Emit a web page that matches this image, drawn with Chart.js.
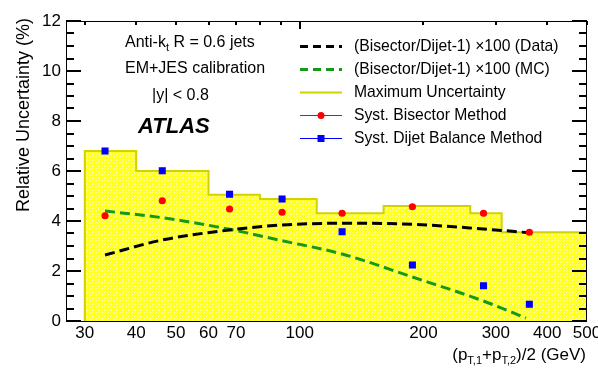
<!DOCTYPE html>
<html>
<head>
<meta charset="utf-8">
<script src="https://cdn.jsdelivr.net/npm/chart.js@4.4.1/dist/chart.umd.min.js"></script>
<style>
  html, body { margin: 0; padding: 0; background: #fff; }
  canvas { display: block; }
</style>
</head>
<body>
<canvas id="uncChart" width="598" height="378"></canvas>
<script>
// Maximum uncertainty histogram: bin edges (GeV) and contents (%)
const binEdges = [30, 40, 60, 80, 110, 160, 260, 310, 500];
const maxUnc = [6.8, 6.0, 5.05, 4.88, 4.31, 4.6, 4.31, 3.55];

// Systematics of the two methods
const ptPoints = [33.6, 46.3, 67.5, 90.6, 126.8, 188, 280, 362];
const bisector = [4.21, 4.81, 4.48, 4.35, 4.31, 4.57, 4.31, 3.55];
const dijet = [6.8, 6.01, 5.07, 4.88, 3.57, 2.24, 1.41, 0.67];

// (Bisector/Dijet-1)x100 curves
const dataCurveX = [33.6, 46.3, 67.5, 90.6, 126.8, 188, 280, 362];
const dataCurve = [2.64, 3.24, 3.64, 3.84, 3.91, 3.87, 3.68, 3.53];
const mcCurveX = [33.6, 46.3, 67.5, 90.6, 126.8, 188, 280, 355];
const mcCurve = [4.4, 4.13, 3.67, 3.21, 2.68, 1.76, 0.8, 0.12];

// axis ticks
const xTicks = [30, 40, 50, 60, 70, 80, 90, 100, 200, 300, 400, 500];
const xLabels = [30, 40, 50, 60, 70, 100, 200, 300, 400, 500];
const yTicks = [0, 2, 4, 6, 8, 10, 12];
const yMinor = [0.5, 1, 1.5, 2.5, 3, 3.5, 4.5, 5, 5.5, 6.5, 7, 7.5, 8.5, 9, 9.5, 10.5, 11, 11.5];

const FONT = '"Liberation Sans", Arial, Helvetica, sans-serif';
const GREEN = '#169a16';
const HIST_LINE = '#d2d200';

const toXY = (xs, ys) => xs.map((x, i) => ({ x: x, y: ys[i] }));

// histogram outline as a stepped line
const histPoints = [{ x: binEdges[0], y: 0 }];
maxUnc.forEach((v, i) => histPoints.push({ x: binEdges[i], y: v }));
histPoints.push({ x: binEdges[binEdges.length - 1], y: maxUnc[maxUnc.length - 1] });
histPoints.push({ x: binEdges[binEdges.length - 1], y: 0 });

// dotted yellow fill like the ROOT pattern
function makePattern() {
    const c = document.createElement('canvas');
    c.width = 3; c.height = 3;
    const p = c.getContext('2d');
    p.fillStyle = '#ffff20';
    p.fillRect(0, 0, 3, 3);
    p.fillStyle = '#ffffa8';
    p.fillRect(0, 0, 1, 1);
    p.fillRect(2, 1, 1, 1);
    return p.createPattern(c, 'repeat');
}

const axisDecor = {
    id: 'axisDecor',
    afterDraw(chart) {
        const { ctx, chartArea: a } = chart;
        const xs = chart.scales.x;
        const ys = chart.scales.y;
        ctx.save();
        ctx.setLineDash([]);
        ctx.fillStyle = '#000';

        // tick marks pointing into the frame
        const yTick = (v, len) => {
            const y = Math.round(ys.getPixelForValue(v)) - 1;
            ctx.fillRect(a.left, y, len, 2);
            ctx.fillRect(a.right - len, y, len, 2);
        };
        yTicks.forEach(v => yTick(v, 15));
        yMinor.forEach(v => yTick(v, 8));
        xTicks.forEach(v => {
            const x = Math.round(xs.getPixelForValue(v));
            ctx.fillRect(x - 1, a.top, 2, v === 100 ? 8 : 4);
        });

        ctx.strokeStyle = '#000';
        ctx.lineWidth = 1;
        ctx.strokeRect(a.left + 0.5, a.top + 0.5, a.right - a.left - 1, a.bottom - a.top);

        ctx.textBaseline = 'middle';

        // labels in the upper left
        ctx.font = '16px ' + FONT;
        let x = 125;
        ctx.fillText('Anti-k', x, 43);
        x += ctx.measureText('Anti-k').width;
        ctx.font = '11px ' + FONT;
        ctx.fillText('t', x, 48);
        x += ctx.measureText('t').width;
        ctx.font = '16px ' + FONT;
        ctx.fillText(' R = 0.6 jets', x, 43);
        ctx.fillText('EM+JES calibration', 125, 69);
        ctx.fillText('|y| < 0.8', 152, 96);
        ctx.font = 'italic bold 22px ' + FONT;
        ctx.fillText('ATLAS', 138, 127);

        // legend
        const rows = [
            { text: '(Bisector/Dijet-1) \u00d7100 (Data)', color: '#000', dash: true },
            { text: '(Bisector/Dijet-1) \u00d7100 (MC)', color: GREEN, dash: true },
            { text: 'Maximum Uncertainty', color: HIST_LINE },
            { text: 'Syst. Bisector Method', color: '#ff0000', marker: 'circle' },
            { text: 'Syst. Dijet Balance Method', color: '#0000ff', marker: 'rect' }
        ];
        rows.forEach((r, i) => {
            const y = 46.5 + i * 23;
            ctx.save();
            ctx.strokeStyle = r.color;
            ctx.lineWidth = r.dash ? 3 : (r.marker ? 1 : 2);
            ctx.setLineDash(r.dash ? [8, 5] : []);
            ctx.beginPath();
            ctx.moveTo(300, y); ctx.lineTo(342, y);
            ctx.stroke();
            ctx.restore();
            if (r.marker === 'circle') {
                ctx.fillStyle = r.color;
                ctx.beginPath(); ctx.arc(321, y, 3.5, 0, Math.PI * 2); ctx.fill();
            } else if (r.marker === 'rect') {
                ctx.fillStyle = r.color;
                ctx.fillRect(317.5, y - 3.5, 7, 7);
            }
            ctx.fillStyle = '#000';
            ctx.font = '15.7px ' + FONT;
            ctx.fillText(r.text, 354, y);
        });

        // y axis title
        ctx.save();
        ctx.translate(24, 115);
        ctx.rotate(-Math.PI / 2);
        ctx.textAlign = 'center';
        ctx.font = '18px ' + FONT;
        ctx.fillText('Relative Uncertainty (%)', 0, 0);
        ctx.restore();

        // x axis title with subscripts
        const parts = [
            ['(p', 17, 0], ['T,1', 11, 6], ['+p', 17, 0], ['T,2', 11, 6], [')/2 (GeV)', 17, 0]
        ];
        let total = 0;
        parts.forEach(p => { ctx.font = p[1] + 'px ' + FONT; total += ctx.measureText(p[0]).width; });
        let tx = 586 - total;
        parts.forEach(p => {
            ctx.font = p[1] + 'px ' + FONT;
            ctx.fillText(p[0], tx, 355 + p[2]);
            tx += ctx.measureText(p[0]).width;
        });
        ctx.restore();
    }
};

new Chart(document.getElementById('uncChart'), {
    type: 'line',
    data: {
        datasets: [
            {
                label: 'Syst. Dijet Balance Method',
                data: toXY(ptPoints, dijet),
                showLine: false,
                pointStyle: 'rect',
                pointRadius: 5,
                backgroundColor: '#0000ff',
                borderColor: '#0000ff',
                borderWidth: 0,
                order: 0
            },
            {
                label: 'Syst. Bisector Method',
                data: toXY(ptPoints, bisector),
                showLine: false,
                pointStyle: 'circle',
                pointRadius: 3.6,
                backgroundColor: '#ff0000',
                borderColor: '#ff0000',
                borderWidth: 0,
                order: 1
            },
            {
                label: '(Bisector/Dijet-1) x100 (Data)',
                data: toXY(dataCurveX, dataCurve),
                borderColor: '#000',
                borderWidth: 3,
                borderDash: [10, 5],
                cubicInterpolationMode: 'monotone',
                pointRadius: 0,
                fill: false,
                order: 2
            },
            {
                label: '(Bisector/Dijet-1) x100 (MC)',
                data: toXY(mcCurveX, mcCurve),
                borderColor: GREEN,
                borderWidth: 3,
                borderDash: [10, 5],
                cubicInterpolationMode: 'monotone',
                pointRadius: 0,
                fill: false,
                order: 3
            },
            {
                label: 'Maximum Uncertainty',
                data: histPoints,
                stepped: 'before',
                borderColor: HIST_LINE,
                borderWidth: 2,
                backgroundColor: makePattern(),
                fill: 'origin',
                pointRadius: 0,
                order: 4
            }
        ]
    },
    options: {
        responsive: false,
        animation: false,
        layout: {
            padding: { top: 21, right: 11, left: 0, bottom: 0 }
        },
        plugins: {
            legend: { display: false },
            tooltip: { enabled: false }
        },
        scales: {
            x: {
                type: 'logarithmic',
                min: 27,
                max: 500,
                grid: { display: false, drawTicks: false },
                border: { display: false },
                afterBuildTicks: scale => {
                    scale.ticks = xTicks.map(v => ({ value: v }));
                },
                afterFit: scale => {
                    scale.height = 57;
                    scale.paddingLeft = 0;
                    scale.paddingRight = 0;
                },
                ticks: {
                    autoSkip: false,
                    maxRotation: 0,
                    padding: 2,
                    color: '#000',
                    font: { family: FONT, size: 17 },
                    callback: v => xLabels.includes(v) ? String(v) : ''
                }
            },
            y: {
                min: 0,
                max: 12,
                grid: { display: false, drawTicks: false },
                border: { display: false },
                afterBuildTicks: scale => {
                    scale.ticks = yTicks.map(v => ({ value: v }));
                },
                afterFit: scale => {
                    scale.width = 66;
                },
                ticks: {
                    padding: 5,
                    color: '#000',
                    font: { family: FONT, size: 17 }
                }
            }
        }
    },
    plugins: [axisDecor]
});
</script>
</body>
</html>
